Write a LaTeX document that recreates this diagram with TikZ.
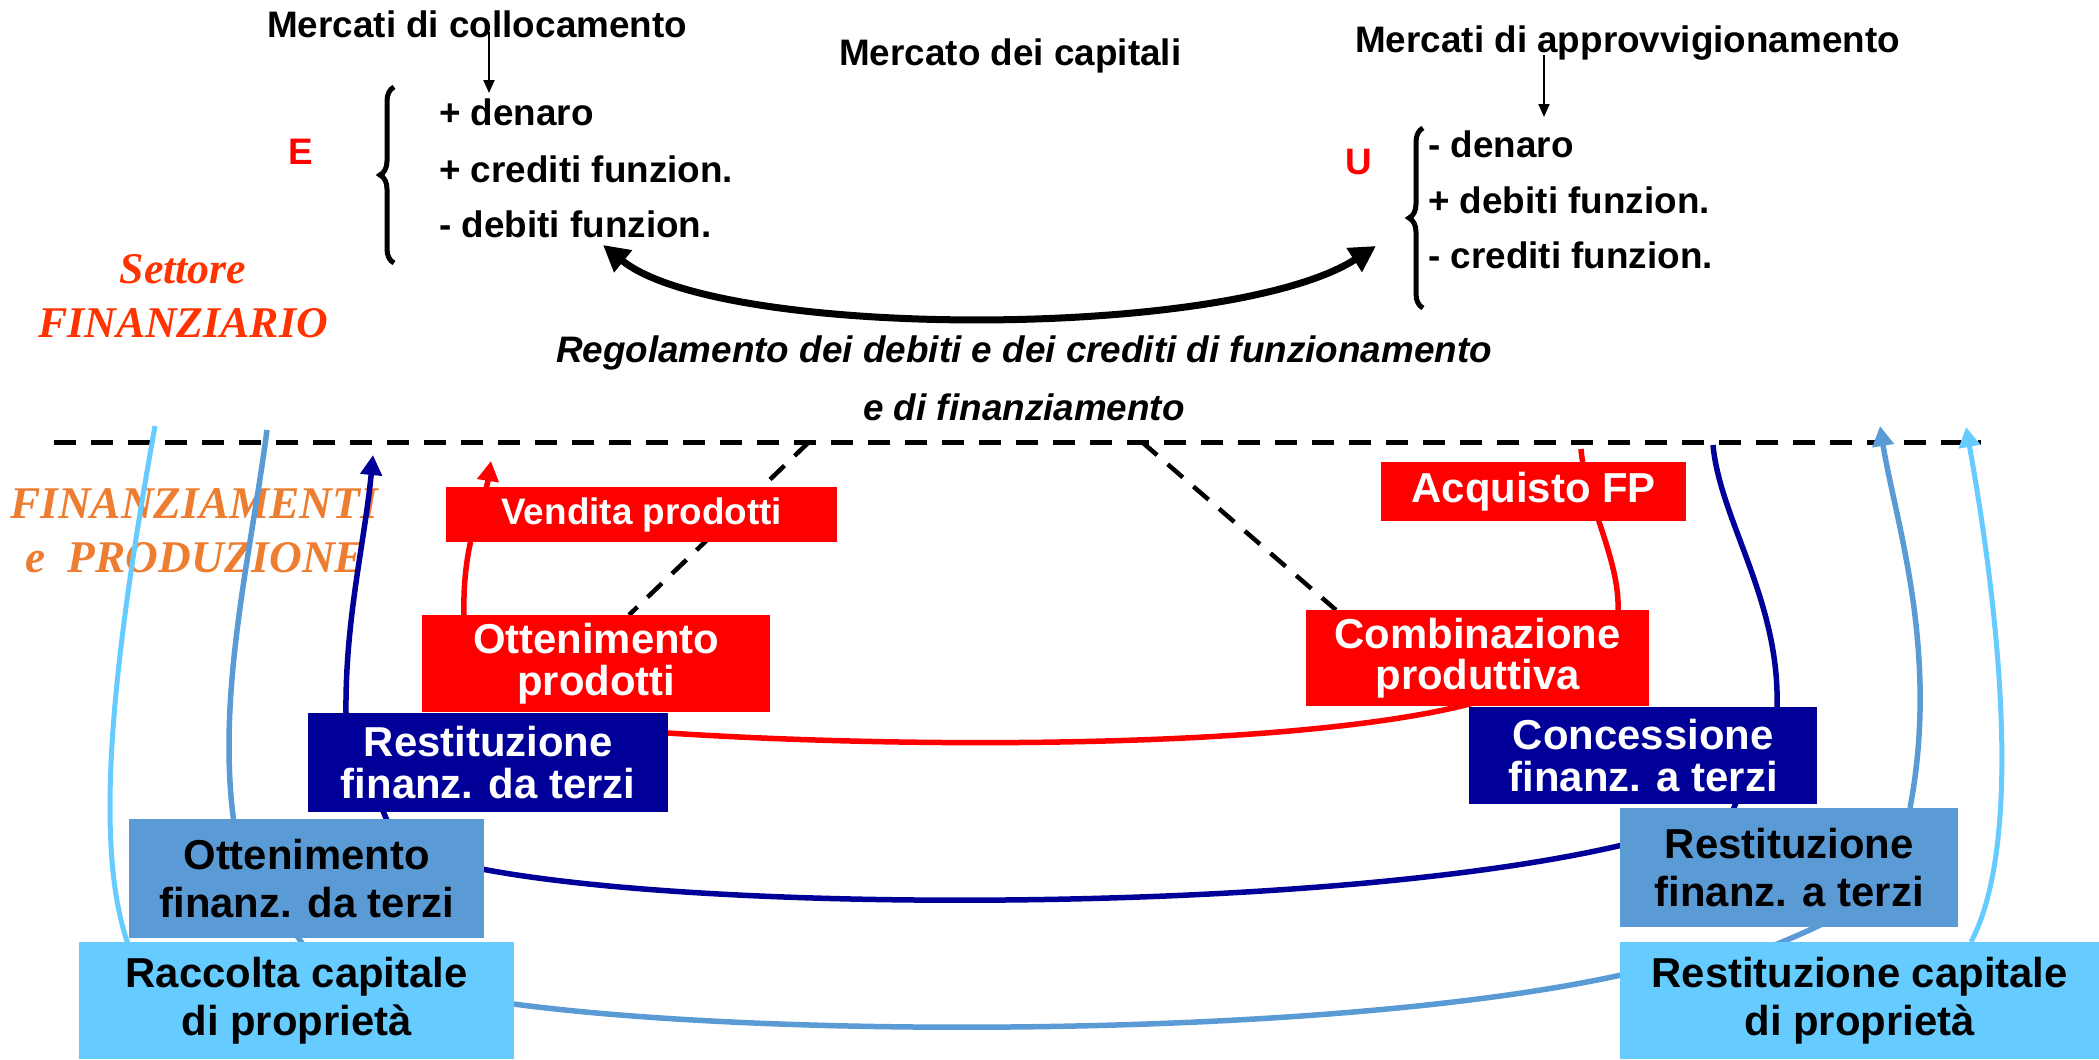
\documentclass[tikz,border=0pt]{standalone}
\usepackage{fontspec}
\setmainfont{Liberation Sans}
\newfontfamily\serifit{Liberation Serif}
\usetikzlibrary{arrows.meta,decorations.pathreplacing,calc}
\definecolor{cred}{HTML}{FF0000}
\definecolor{cnavy}{HTML}{000099}
\definecolor{csteel}{HTML}{5B9BD5}
\definecolor{clight}{HTML}{66CCFF}
\definecolor{corangered}{HTML}{FF3300}
\definecolor{corange}{HTML}{ED7D31}
\pgfdeclarelayer{bottomlayer}
\pgfdeclarelayer{linelayer}
\pgfsetlayers{bottomlayer,linelayer,main}
\begin{document}
\begin{tikzpicture}[x=1bp,y=-1bp,
  txt/.style={inner sep=0, anchor=base west, font=\fontsize{37}{40}\selectfont\bfseries},
  ttl/.style={inner sep=0, anchor=base, font=\fontsize{37}{40}\selectfont\bfseries\itshape},
  sect/.style={inner sep=0, font=\fontsize{44}{48}\serifit\bfseries\itshape},
  bx/.style={inner sep=0, anchor=north west, align=center},
  redbx/.style={bx, fill=cred, text=white, font=\fontsize{42}{42}\selectfont\bfseries},
  navybx/.style={bx, fill=cnavy, text=white, font=\fontsize{42}{42}\selectfont\bfseries},
  steelbx/.style={bx, fill=csteel, text=black, font=\fontsize{42}{48}\selectfont\bfseries},
  lightbx/.style={bx, fill=clight, text=black, font=\fontsize{42}{48}\selectfont\bfseries},
  rd/.style={draw=cred, line width=5.5bp},
  nv/.style={draw=cnavy, line width=5.5bp},
  st/.style={draw=csteel, line width=5.5bp},
  lt/.style={draw=clight, line width=5bp},
  tipA/.style={-{Triangle[length=20bp,width=21bp]}},
  dshline/.style={draw=black, line width=5bp, dash pattern=on 22bp off 15bp},
  dshdiag/.style={draw=black, line width=4.5bp, dash pattern=on 20bp off 14bp},
  brc/.style={line width=5bp, decorate, decoration={brace, amplitude=14bp}},
]
\useasboundingbox (0,0) rectangle (2099,1059);

% ---- top texts
\node[txt] (mc) at (267,37) {Mercati di collocamento};
\node[txt] (mk) at (839,65) {Mercato dei capitali};
\node[txt] (ma) at (1355,52) {Mercati di approvvigionamento};
\node[txt, text=cred] (E) at (288,164) {E};
\node[txt, text=cred] (U) at (1345,174) {U};
\node[txt] (e1) at (439,125) {+ denaro};
\node[txt] (e2) at (439,182) {+ crediti funzion.};
\node[txt] (e3) at (439,237) {- debiti funzion.};
\node[txt] (u1) at (1428,157) {- denaro};
\node[txt] (u2) at (1428,213) {+ debiti funzion.};
\node[txt] (u3) at (1428,268) {- crediti funzion.};
\node[ttl] (reg1) at (1024,362) {Regolamento dei debiti e dei crediti di funzionamento};
\node[ttl] (reg2) at (1024,420) {e di finanziamento};

\node[sect, text=corangered, anchor=base] (s1) at (183,283) {Settore};
\node[sect, text=corangered, anchor=base] (s2) at (183,337) {FINANZIARIO};
\begin{pgfonlayer}{bottomlayer}
\node[sect, font=\fontsize{45.5}{48}\serifit\bfseries\itshape, text=corange, anchor=base west] (f1) at (10,518) {FINANZIAMENTI};
\node[sect, font=\fontsize{45.5}{48}\serifit\bfseries\itshape, text=corange, anchor=base west] (f2) at (25,572) {e~~PRODUZIONE};
\end{pgfonlayer}

% arrows from markets
\coordinate (mcEnd) at (489,93);
\coordinate (maEnd) at (1544,117);
\draw[line width=2bp, -{Triangle[length=13bp,width=11bp]}] ($(mc.base west)+(222,-5)$) -- (mcEnd);
\draw[line width=2bp, -{Triangle[length=13bp,width=11bp]}] ($(ma.base west)+(189,3)$) -- (maEnd);

% braces
\draw[brc] (394,263) -- (394,87);
\draw[brc] (1423,308) -- (1423,128);

% big double arrow
\coordinate (bl) at (603,245);
\coordinate (br) at (1376,246);
\draw[line width=7bp, {Triangle[length=26bp,width=27bp]}-{Triangle[length=26bp,width=27bp]}] (bl) .. controls (720,340) and (1230,340) .. (br);

% ---- free ends
\coordinate (dashL) at (54,442);
\coordinate (dashR) at (1981,442);
\coordinate (dA) at (809,442);
\coordinate (dB) at (1142,442);
\coordinate (navyTip) at (373,455);
\coordinate (navyTop) at (1713,445);
\coordinate (steelTop) at (267,430);
\coordinate (steelTip) at (1880,426);
\coordinate (lightTop) at (155,426);
\coordinate (lightTip) at (1966,427);
\coordinate (redTip) at (491,461);
\coordinate (redTop) at (1581,449);

% ---- boxes
\node[redbx, minimum width=391bp, minimum height=55bp, font=\fontsize{37}{37}\selectfont\bfseries] (vend) at (446,487) {Vendita prodotti};
\node[redbx, minimum width=348bp, minimum height=97bp] (otp) at (422,615) {Ottenimento\\prodotti};
\node[navybx, minimum width=360bp, minimum height=99bp] (rfdt) at (308,713) {Restituzione\\finanz. da terzi};
\node[steelbx, minimum width=355bp, minimum height=119bp] (ofdt) at (129,819) {Ottenimento\\finanz. da terzi};
\node[lightbx, minimum width=435bp, minimum height=117bp] (racc) at (79,942) {Raccolta capitale\\di proprietà};
\node[redbx, minimum width=305bp, minimum height=59bp] (acq) at (1381,462) {Acquisto FP};
\node[redbx, minimum width=343bp, minimum height=96bp] (comb) at (1306,610) {Combinazione\\produttiva};
\node[navybx, minimum width=348bp, minimum height=97bp] (conc) at (1469,707) {Concessione\\finanz. a terzi};
\node[steelbx, minimum width=338bp, minimum height=119bp] (rfat) at (1620,808) {Restituzione\\finanz. a terzi};
\node[lightbx, minimum width=479bp, minimum height=117bp] (rcap) at (1620,942) {Restituzione capitale\\di proprietà};

\begin{pgfonlayer}{linelayer}
% ---- dashed lines
\draw[dshline] (dashL) -- (dashR);
\draw[dshdiag] (dA) -- ($(otp.north west)+(207,0)$);
\draw[dshdiag] (dB) -- ($(comb.north west)+(30,0)$);

% ---- red connectors
\draw[rd, tipA] ($(otp.north west)+(42,0)$) .. controls (462,540) and (485,500) .. (redTip);
\draw[rd] (redTop) .. controls (1585,500) and (1620,560) .. ($(comb.north west)+(312,0)$);
\draw[rd] ($(rfdt.north east)+(-30,18)$) .. controls (900,750) and (1320,750) .. ($(comb.south west)+(184,-8)$);

% ---- navy connectors
\draw[nv, tipA] ($(rfdt.north west)+(38,0)$) .. controls (345,620) and (365,540) .. (navyTip);
\draw[nv] ($(ofdt.north west)+(266,20)$) -- ($(rfdt.south west)+(67,-20)$);
\draw[nv] ($(ofdt.east)+(-14,-12)$) .. controls (700,915) and (1350,915) .. ($(rfat.west)+(20,-27)$);
\draw[nv] ($(rfat.north west)+(105,22)$) -- ($(conc.south west)+(276,-24)$);
\draw[nv] ($(conc.north west)+(308,0)$) .. controls (1780,600) and (1720,520) .. (navyTop);

% ---- steel connectors
\draw[st] (steelTop) .. controls (250,560) and (215,700) .. ($(ofdt.north west)+(106,11)$);
\draw[st] ($(ofdt.south west)+(161,-13)$) -- ($(racc.north west)+(231,13)$);
\draw[st] ($(racc.east)+(-24,0)$) .. controls (750,1040) and (1350,1040) .. ($(rcap.west)+(20,-30)$);
\draw[st] ($(rcap.north west)+(120,16)$) .. controls (1790,940) and (1810,930) .. ($(rfat.south west)+(220,-12)$);
\draw[st, tipA] ($(rfat.north west)+(290,0)$) .. controls (1940,650) and (1895,520) .. (steelTip);

% ---- light connectors
\draw[lt] (lightTop) .. controls (115,650) and (90,850) .. ($(racc.north west)+(52,10)$);
\draw[lt, tipA] ($(rcap.north west)+(351,0)$) .. controls (2030,830) and (1990,560) .. (lightTip);
\end{pgfonlayer}
\end{tikzpicture}
\end{document}
